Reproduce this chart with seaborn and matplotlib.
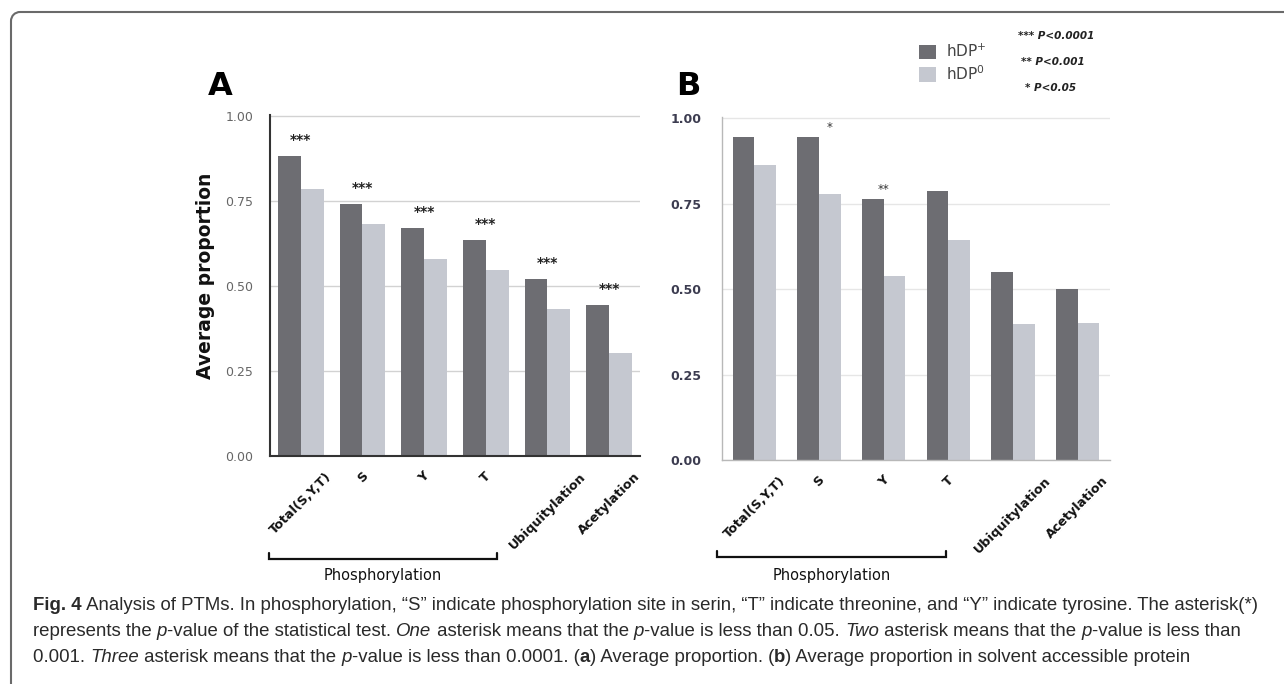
import matplotlib
matplotlib.use("Agg")
import matplotlib.pyplot as plt
from matplotlib.patches import Arc
from matplotlib.lines import Line2D
from matplotlib.transforms import IdentityTransform
import seaborn as sns
import pandas as pd

# ---- data -------------------------------------------------------------
categories = ["Total(S,Y,T)", "S", "Y", "T", "Ubiquitylation", "Acetylation"]
groups = ["hDP$^{+}$", "hDP$^{0}$"]

# panel A: average proportion
a_pos = [0.881, 0.741, 0.672, 0.636, 0.520, 0.443]
a_zero = [0.785, 0.682, 0.578, 0.546, 0.431, 0.303]
a_sig = ["***", "***", "***", "***", "***", "***"]

# panel B: average proportion in solvent accessible protein
b_pos = [0.945, 0.945, 0.762, 0.788, 0.551, 0.499]
b_zero = [0.864, 0.777, 0.537, 0.644, 0.397, 0.400]
b_sig = ["", "*", "**", "", "", ""]

yticks = [0.0, 0.25, 0.50, 0.75, 1.00]
ytick_labels = ["0.00", "0.25", "0.50", "0.75", "1.00"]
pvalue_notes = ["*** P<0.0001", "** P<0.001", "* P<0.05"]

DARK = "#6d6d72"
LIGHT = "#c5c8d0"

W, H = 1284, 684
sns.set_theme(style="white")
plt.rcParams["font.family"] = ["DejaVu Sans"]

fig = plt.figure(figsize=(W / 100, H / 100), dpi=100)
fig.patch.set_facecolor("white")


def long_frame(pos, zero):
    return pd.DataFrame({
        "category": categories * 2,
        "group": [groups[0]] * len(categories) + [groups[1]] * len(categories),
        "value": list(pos) + list(zero),
    })


def px_axes(left, top, right, bottom):
    return fig.add_axes([left / W, 1 - bottom / H, (right - left) / W, (bottom - top) / H])


ax_a = px_axes(270, 115, 640, 456)
ax_b = px_axes(722, 117, 1110, 460)

sns.barplot(data=long_frame(a_pos, a_zero), x="category", y="value", hue="group",
            palette=[DARK, LIGHT], saturation=1, width=0.74, gap=0,
            errorbar=None, ax=ax_a, zorder=2, linewidth=0, edgecolor="none")
sns.barplot(data=long_frame(b_pos, b_zero), x="category", y="value", hue="group",
            palette=[DARK, LIGHT], saturation=1, width=0.67, gap=0,
            errorbar=None, ax=ax_b, zorder=2, linewidth=0, edgecolor="none")

handles, labels = ax_a.get_legend_handles_labels()
for ax in (ax_a, ax_b):
    if ax.get_legend() is not None:
        ax.get_legend().remove()

# ---- axes styling -----------------------------------------------------
for ax, grid_col, spine_col, spine_lw, tick_col, tick_w, tick_pad in (
        (ax_a, "#d2d2d2", "#333333", 1.5, "#666666", "normal", 12),
        (ax_b, "#e6e6e6", "#b8b8b8", 1.0, "#3c3c50", "semibold", 15)):
    ax.set_ylim(0, 1.003)
    ax.set_xlim(-0.5, len(categories) - 0.5)
    ax.set_yticks(yticks)
    ax.set_yticklabels(ytick_labels, color=tick_col, fontsize=9, fontweight=tick_w)
    ax.tick_params(axis="y", length=0, pad=tick_pad)
    ax.tick_params(axis="x", length=0, pad=10)
    ax.set_xticks(range(len(categories)))
    ax.set_xticklabels(categories, rotation=45, ha="center", va="top",
                       fontsize=9.2, fontweight="bold", color="#111111")
    ax.yaxis.grid(True, color=grid_col, linewidth=1.0, zorder=0)
    ax.xaxis.grid(False)
    ax.set_axisbelow(True)
    for side in ("top", "right"):
        ax.spines[side].set_visible(False)
    for side in ("left", "bottom"):
        ax.spines[side].set_visible(True)
        ax.spines[side].set_color(spine_col)
        ax.spines[side].set_linewidth(spine_lw)
    ax.set_xlabel("")
    ax.set_ylabel("")
    ax.set_facecolor("white")

ax_a.set_ylabel("Average proportion", fontsize=13.5, fontweight="bold", color="#111111")
ax_a.yaxis.set_label_coords(-0.150, 0.528)

# significance marks
for i, s in enumerate(a_sig):
    if s:
        top = max(a_pos[i], a_zero[i])
        ax_a.text(i, top + 0.047, s, ha="center", va="center", fontsize=10,
                  fontweight="semibold", color="#222222")
b_dx = [0, 0.17, 0, 0, 0, 0]
for i, s in enumerate(b_sig):
    if s:
        top = max(b_pos[i], b_zero[i])
        ax_b.text(i + b_dx[i], top + 0.028, s, ha="center", va="center", fontsize=8.5, color="#333333")

# panel letters
fig.text(208 / W, 1 - 95 / H, "A", fontsize=23, fontweight="bold", color="black")
fig.text(676 / W, 1 - 95 / H, "B", fontsize=23, fontweight="bold", color="black")


# "Phosphorylation" bracket under the first four categories
def bracket(ax, x0, x1, y, text_y):
    tr = ax.get_xaxis_transform()
    ax.plot([x0, x0, x1, x1], [y + 0.018, y, y, y + 0.018], transform=tr,
            color="#111111", lw=1.6, clip_on=False, solid_joinstyle="miter")
    ax.text((x0 + x1) / 2, text_y, "Phosphorylation", transform=tr, ha="center",
            va="center", fontsize=10.5, color="#111111")


bracket(ax_a, -0.52, 3.18, -0.302, -0.35)
bracket(ax_b, -0.58, 2.96, -0.283, -0.336)

# legend and p-value key
fig.legend(handles, labels, loc="upper left", bbox_to_anchor=(919 / W, 1 - 43 / H),
           frameon=False, borderpad=0, borderaxespad=0, handlelength=1.1,
           handleheight=1.1, handletextpad=0.7, labelspacing=0.25, fontsize=11,
           labelcolor="#444444")
for note, x, y in zip(pvalue_notes, [1018, 1021, 1025], [36, 62, 88]):
    fig.text(x / W, 1 - y / H, note, fontsize=7.5, fontweight="bold", style="italic",
             color="#222222", va="center")

# ---- caption ------------------------------------------------------------
cap_family = ["Liberation Sans", "DejaVu Sans"]
caption_lines = [
    [("Fig. 4", "bold", "normal"),
     (" Analysis of PTMs. In phosphorylation, \u201cS\u201d indicate phosphorylation site in serin, "
      "\u201cT\u201d indicate threonine, and \u201cY\u201d indicate tyrosine. The asterisk(*)", "normal", "normal")],
    [("represents the ", "normal", "normal"), ("p", "normal", "italic"),
     ("-value of the statistical test. ", "normal", "normal"), ("One", "normal", "italic"),
     (" asterisk means that the ", "normal", "normal"), ("p", "normal", "italic"),
     ("-value is less than 0.05. ", "normal", "normal"), ("Two", "normal", "italic"),
     (" asterisk means that the ", "normal", "normal"), ("p", "normal", "italic"),
     ("-value is less than", "normal", "normal")],
    [("0.001. ", "normal", "normal"), ("Three", "normal", "italic"),
     (" asterisk means that the ", "normal", "normal"), ("p", "normal", "italic"),
     ("-value is less than 0.0001. (", "normal", "normal"), ("a", "bold", "normal"),
     (") Average proportion. (", "normal", "normal"), ("b", "bold", "normal"),
     (") Average proportion in solvent accessible protein", "normal", "normal")],
]
renderer = fig.canvas.get_renderer()
cap_left, cap_right = 33, 1268


def layout_caption(size, draw=True):
    widths = []
    made = []
    for line, y in zip(caption_lines, [606, 632, 657]):
        x = cap_left
        for chunk, weight, style in line:
            t = fig.text(x / W, 1 - y / H, chunk, fontsize=size, fontweight=weight,
                         style=style, family=cap_family, color="#2a2a2a", va="center",
                         ha="left")
            made.append(t)
            x += t.get_window_extent(renderer).width
        widths.append(x - cap_left)
    if not draw:
        for t in made:
            t.remove()
    return max(widths)


base = 12.5
widest = layout_caption(base, draw=False)
layout_caption(base * (cap_right - cap_left) / widest)

# outer frame: rounded top-left corner, lines running off the right and bottom edges
r = 9
frame_kw = dict(color="#6a6a6a", linewidth=1.5, transform=IdentityTransform())
top_y = H - 12
fig.add_artist(Line2D([11 + r, W + 20], [top_y, top_y], **frame_kw))
fig.add_artist(Line2D([11, 11], [top_y - r, -20], **frame_kw))
fig.add_artist(Arc((11 + r, top_y - r), 2 * r, 2 * r, theta1=90, theta2=180,
                   edgecolor="#6a6a6a", linewidth=1.5, transform=IdentityTransform()))

fig.savefig("out.png", dpi=100, facecolor="white")
